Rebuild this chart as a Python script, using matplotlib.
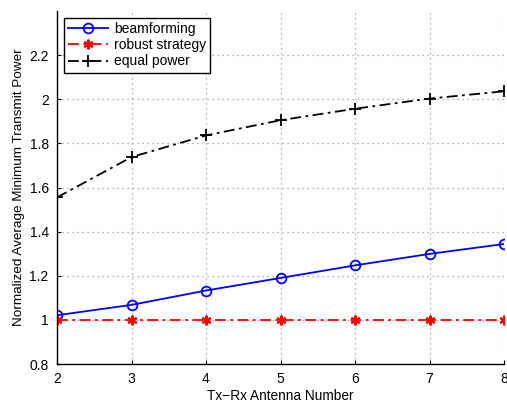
import matplotlib
matplotlib.use("Agg")
import matplotlib.pyplot as plt

antennas = [2, 3, 4, 5, 6, 7, 8]
beamforming = [1.021, 1.068, 1.133, 1.190, 1.247, 1.299, 1.344]
robust = [1.0, 1.0, 1.0, 1.0, 1.0, 1.0, 1.0]
equal_power = [1.555, 1.738, 1.836, 1.905, 1.957, 2.003, 2.036]
yticks = [0.8, 1.0, 1.2, 1.4, 1.6, 1.8, 2.0, 2.2]
ytick_labels = ["0.8", "1", "1.2", "1.4", "1.6", "1.8", "2", "2.2"]

plt.rcParams['font.family'] = ['Liberation Sans', 'DejaVu Sans']

fig = plt.figure(figsize=(5.07, 4.04), dpi=100)
ax = fig.add_axes([57/507, 40/404, (504-57)/507, (364-11)/404])

ax.plot(antennas, beamforming, '-', color='blue', lw=1.3, marker='o', ms=7,
        mfc='none', mec='blue', mew=1.3, label='beamforming')
ax.plot(antennas, robust, linestyle=(0, (6, 2.5, 1.5, 2.5)), color='red', lw=1.3,
        marker=(6, 2, 0), ms=7, mec='red', mfc='red', mew=1.5, label='robust strategy')
ax.plot(antennas, equal_power, linestyle=(0, (6, 2.5, 1.5, 2.5)), color='black', lw=1.3,
        marker='+', ms=8, mew=1.3, label='equal power')

ax.set_xlim(2, 8)
ax.set_ylim(0.8, 2.4)
ax.set_xticks(antennas)
ax.set_yticks(yticks)
ax.set_yticklabels(ytick_labels)
ax.tick_params(direction='in', length=3, labelsize=10, pad=6)
ax.grid(True, linestyle=(0, (1, 3)), color='#999999', lw=0.9)
ax.spines['top'].set_visible(False)
ax.spines['right'].set_visible(False)
for s in ['left', 'bottom']:
    ax.spines[s].set_linewidth(1.0)

ax.set_xlabel('Tx\u2212Rx Antenna Number', fontsize=9.8, labelpad=2)
ax.set_ylabel('Normalized Average Minimum Transmit Power', fontsize=9.7, labelpad=3)

leg = ax.legend(loc='upper left', bbox_to_anchor=(0.0157, 0.980), borderaxespad=0,
                fontsize=10, frameon=True, fancybox=False, edgecolor='black',
                framealpha=1, handlelength=2.9, borderpad=0.3, labelspacing=0.15,
                handletextpad=0.4)
leg.get_frame().set_linewidth(1.0)

fig.savefig('out.png', dpi=100)
